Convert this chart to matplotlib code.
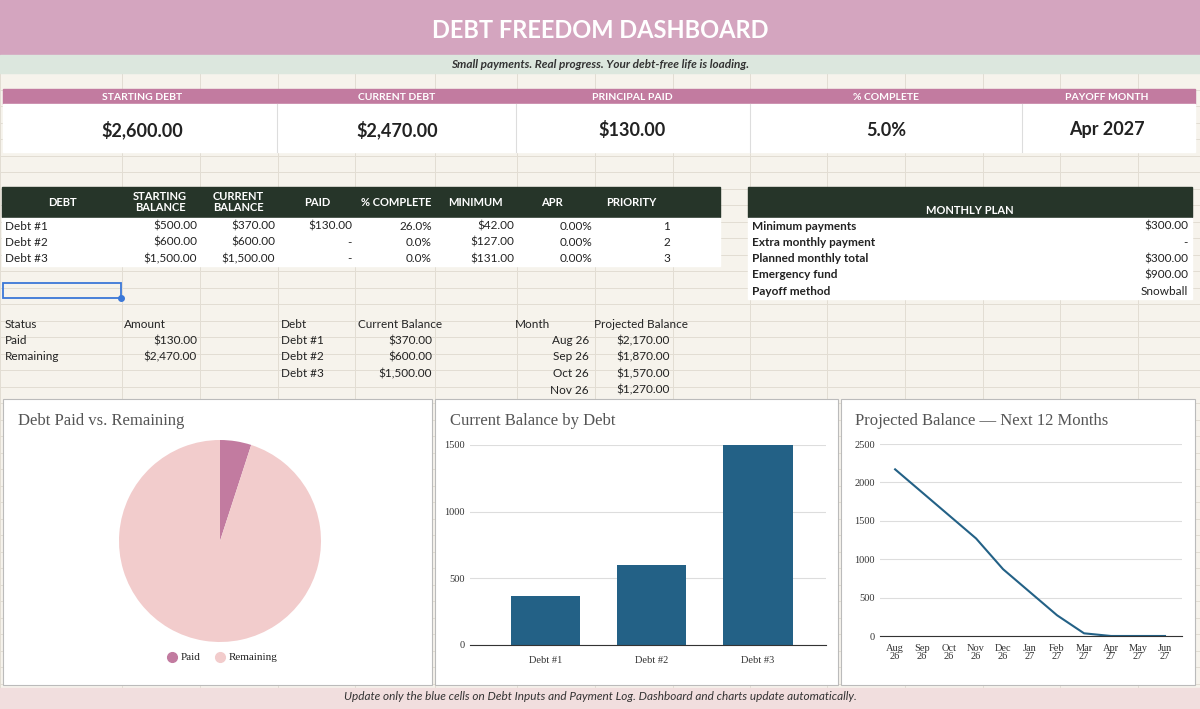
import matplotlib.pyplot as plt
from matplotlib.patches import Rectangle

W, H = 1200, 709

kpi_labels = ["STARTING DEBT", "CURRENT DEBT", "PRINCIPAL PAID", "% COMPLETE", "PAYOFF MONTH"]
kpi_values = ["$2,600.00", "$2,470.00", "$130.00", "5.0%", "Apr 2027"]

tbl_head = ["DEBT", "STARTING\nBALANCE", "CURRENT\nBALANCE", "PAID", "% COMPLETE", "MINIMUM", "APR", "PRIORITY"]
tbl_rows = [
    ["Debt #1", "$500.00", "$370.00", "$130.00", "26.0%", "$42.00", "0.00%", "1"],
    ["Debt #2", "$600.00", "$600.00", "-", "0.0%", "$127.00", "0.00%", "2"],
    ["Debt #3", "$1,500.00", "$1,500.00", "-", "0.0%", "$131.00", "0.00%", "3"],
]
plan_labels = ["Minimum payments", "Extra monthly payment", "Planned monthly total", "Emergency fund", "Payoff method"]
plan_values = ["$300.00", "-", "$300.00", "$900.00", "Snowball"]

status = ["Paid", "Remaining"]
amounts = [130.0, 2470.0]
debts = ["Debt #1", "Debt #2", "Debt #3"]
balances = [370.0, 600.0, 1500.0]
months = ["Aug\n26", "Sep\n26", "Oct\n26", "Nov\n26", "Dec\n26", "Jan\n27", "Feb\n27",
          "Mar\n27", "Apr\n27", "May\n27", "Jun\n27"]
projected = [2170, 1870, 1570, 1270, 870, 570, 270, 35, 0, 0, 0]

plt.rcParams['font.family'] = ['Lato', 'DejaVu Sans']
fig = plt.figure(figsize=(12, 7.09), dpi=100)
bg = fig.add_axes([0, 0, 1, 1])
bg.set_xlim(0, W)
bg.set_ylim(H, 0)
bg.axis('off')
bg.add_patch(Rectangle((0, 0), W, H, color='#f6f3ec', zorder=0))

# grid
cols = [0, 122, 200, 278, 355, 435, 517, 595, 673, 750, 827, 905, 983, 1060, 1138, 1200]
for x in cols:
    bg.plot([x, x], [0, H], color='#e2ddd3', lw=0.7, zorder=1)
y = 73
while y < H:
    bg.plot([0, W], [y, y], color='#e2ddd3', lw=0.7, zorder=1)
    y += 16.5


def box(x0, y0, x1, y1, c, z=2, **kw):
    bg.add_patch(Rectangle((x0, y0), x1 - x0, y1 - y0, color=c, zorder=z, **kw))


def txt(x, y, s, **kw):
    kw.setdefault('fontsize', 8.5)
    kw.setdefault('va', 'center')
    kw.setdefault('color', '#222222')
    bg.text(x, y, s, zorder=5, **kw)


# title bands
box(0, 0, W, 55, '#d4a5bf')
txt(600, 30, "DEBT FREEDOM DASHBOARD", ha='center', fontsize=17, color='white', weight='bold')
box(0, 55, W, 73, '#dce7de')
txt(600, 64, "Small payments. Real progress. Your debt-free life is loading.", ha='center',
    fontsize=8.5, style='italic', weight='bold', color='#333333')

# KPIs
box(3, 89, 1195, 104, '#c27ba0')
box(3, 104, 1195, 152, 'white')
kx = [142, 397, 632, 886, 1107]
for x in [277, 516, 750, 1022]:
    bg.plot([x, x], [104, 152], color='#dddddd', lw=0.8, zorder=3)
for x, lab, val in zip(kx, kpi_labels, kpi_values):
    txt(x, 97, lab, ha='center', fontsize=7.5, color='white', weight='bold')
    txt(x, 130, val, ha='center', fontsize=13, weight='bold')

# debt table
box(2, 187, 720, 217, '#263529')
box(2, 218, 720, 266, 'white')
hx = [62, 160, 238, 317, 396, 475, 552, 631]
for x, h in zip(hx, tbl_head):
    txt(x, 202, h, ha='center', fontsize=8, color='white', weight='bold', linespacing=1.1)
right = [197, 275, 352, 432, 514, 592, 670]
for i, row in enumerate(tbl_rows):
    yy = 226 + 16.3 * i
    txt(5, yy, row[0])
    for x, v in zip(right, row[1:]):
        txt(x, yy, v, ha='right')

# monthly plan
box(748, 187, 1192, 217, '#263529')
txt(970, 210, "MONTHLY PLAN", ha='center', fontsize=8, color='white', weight='bold')
box(748, 218, 1192, 299, 'white')
for i, (lab, val) in enumerate(zip(plan_labels, plan_values)):
    yy = 226 + 16.3 * i
    txt(752, yy, lab, weight='bold')
    txt(1188, yy, val, ha='right')

# selected cell
bg.add_patch(Rectangle((3, 283), 118, 15, fill=False, ec='#3b78d8', lw=1.3, zorder=6))
bg.plot([121], [298], 'o', color='#3b78d8', ms=4, zorder=7)

# helper tables
ly = [324, 340.5, 357, 373.5, 390]
txt(5, ly[0], "Status"); txt(124, ly[0], "Amount")
for i, (s, a) in enumerate(zip(status, amounts)):
    txt(5, ly[i + 1], s)
    txt(197, ly[i + 1], f"${a:,.2f}", ha='right')
txt(281, ly[0], "Debt"); txt(358, ly[0], "Current Balance")
for i, (d, b) in enumerate(zip(debts, balances)):
    txt(281, ly[i + 1], d)
    txt(432, ly[i + 1], f"${b:,.2f}", ha='right')
txt(515, ly[0], "Month"); txt(594, ly[0], "Projected Balance")
for i in range(4):
    txt(589, ly[i + 1], months[i].replace("\n", " "), ha='right')
    txt(670, ly[i + 1], f"${projected[i]:,.2f}", ha='right')

# chart panels
for x0, x1 in [(3, 432), (435, 838), (841, 1195)]:
    bg.add_patch(Rectangle((x0, 399), x1 - x0, 286, fc='white', ec='#bbbbbb', lw=0.8, zorder=3))

serif = ['Liberation Serif', 'DejaVu Serif']
tc = '#555555'
txt(18, 421, "Debt Paid vs. Remaining", fontsize=12, family=serif, color=tc)
txt(450, 421, "Current Balance by Debt", fontsize=12, family=serif, color=tc)
txt(855, 421, "Projected Balance \u2014 Next 12 Months", fontsize=12, family=serif, color=tc)


def fax(x0, y0, x1, y1):
    return fig.add_axes([x0 / W, 1 - y1 / H, (x1 - x0) / W, (y1 - y0) / H])


# pie
pa = fax(119, 440, 321, 642)
pa.pie(amounts, colors=['#c27ba0', '#f2cccc'], startangle=90, counterclock=False,
       wedgeprops=dict(lw=0))
pa.set_xlim(-1, 1)
pa.set_ylim(-1, 1)
pa.set_aspect('equal')
bg.plot([172], [657], 'o', color='#c27ba0', ms=7, zorder=6)
txt(181, 657, "Paid", fontsize=8, family=serif)
bg.plot([220], [657], 'o', color='#f2cccc', ms=7, zorder=6)
txt(229, 657, "Remaining", fontsize=8, family=serif)


def style(ax, ymax, step):
    ax.set_ylim(0, ymax)
    ax.set_yticks(range(0, ymax + 1, step))
    ax.grid(axis='y', color='#dddddd', lw=0.8)
    ax.set_axisbelow(True)
    for s in ax.spines.values():
        s.set_visible(False)
    ax.spines['bottom'].set_visible(True)
    ax.spines['bottom'].set_color('#333333')
    ax.tick_params(length=0, labelsize=7.5, colors='#333333')
    for lab in ax.get_xticklabels() + ax.get_yticklabels():
        lab.set_family(serif)


ba = fax(470, 445, 826, 645)
ba.bar(debts, balances, color='#236186', width=0.65)
ba.set_xlim(-0.71, 2.64)
style(ba, 1500, 500)
ba.tick_params(axis='x', pad=8)

la = fax(880, 444, 1182, 636)
la.plot(range(len(projected)), projected, color='#236186', lw=1.5)
la.set_xticks(range(len(months)))
la.set_xticklabels(months, linespacing=0.75)
la.set_xlim(-0.56, 10.63)
style(la, 2500, 500)
la.tick_params(axis='x', pad=6)

# footer
box(0, 688, W, H, '#f1dede')
txt(600, 697, "Update only the blue cells on Debt Inputs and Payment Log. Dashboard and charts update automatically.",
    ha='center', fontsize=8.5, style='italic', color='#333333')

fig.savefig('out.png', dpi=100)
